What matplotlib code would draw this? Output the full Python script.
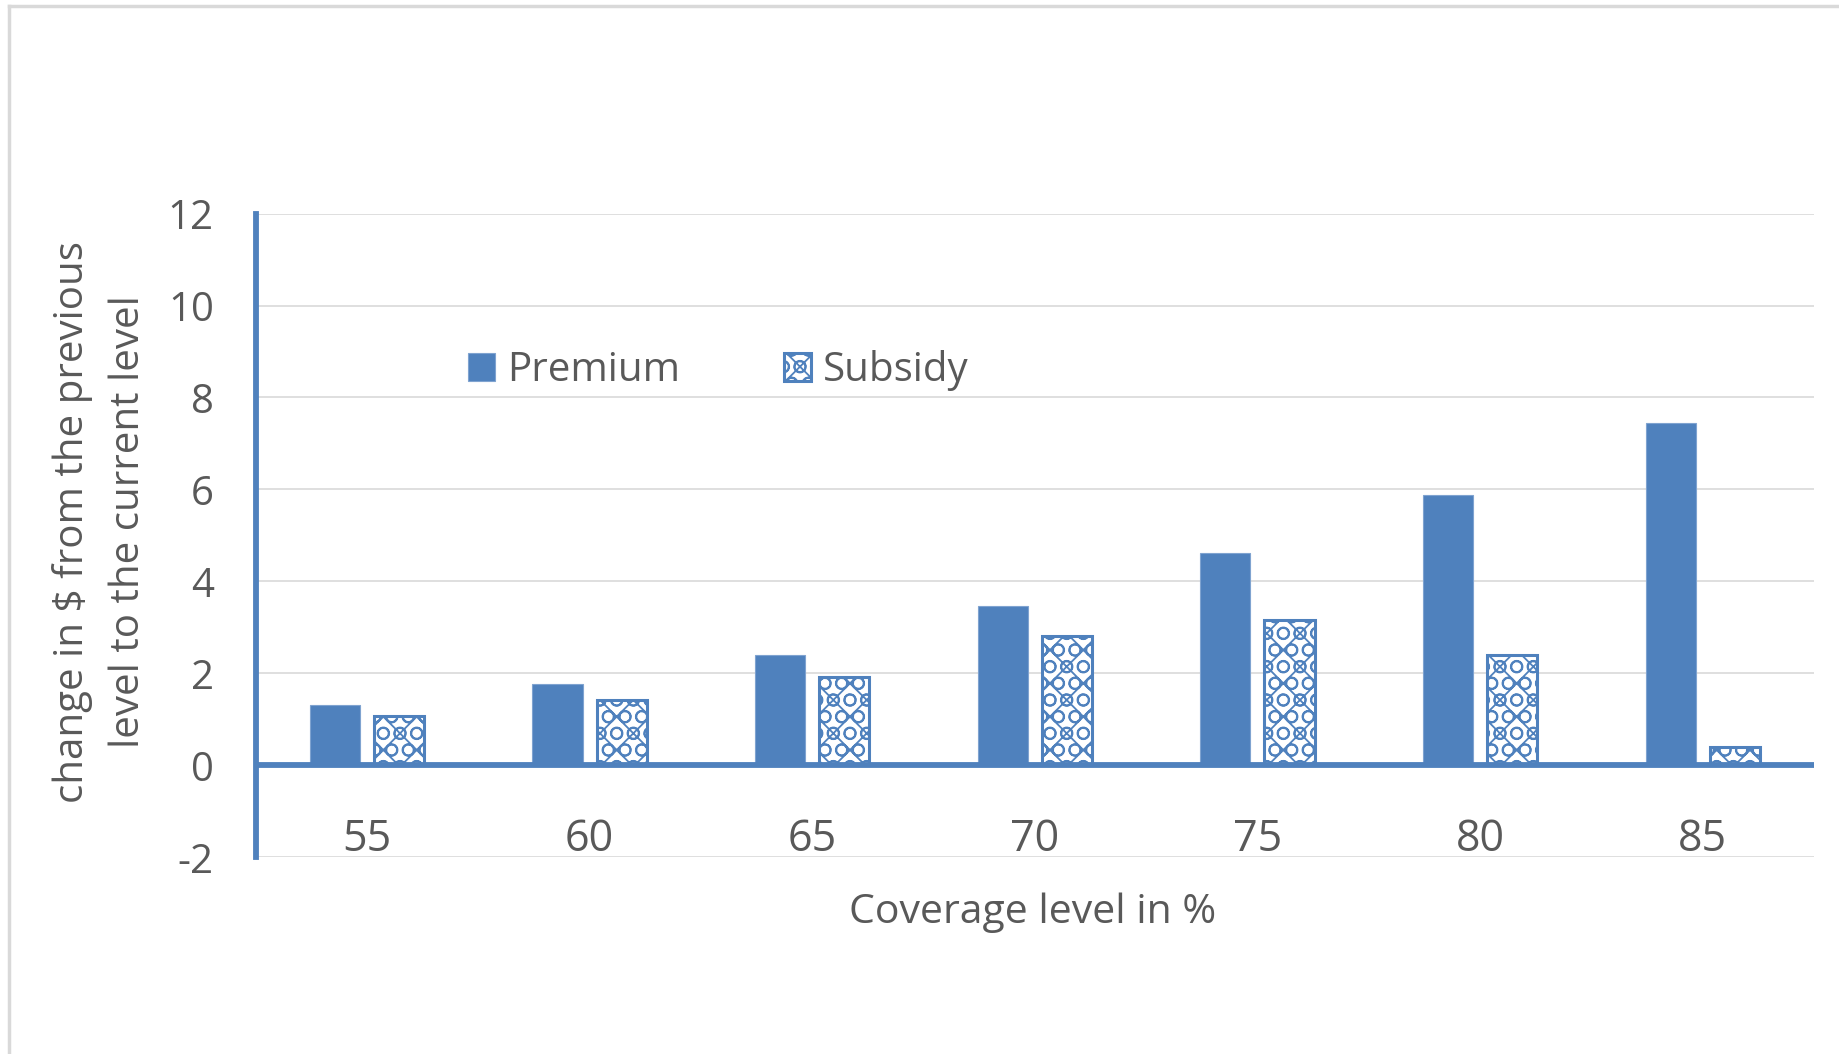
import matplotlib
matplotlib.use("Agg")
import matplotlib.pyplot as plt
import numpy as np
from matplotlib.lines import Line2D

categories = ["55", "60", "65", "70", "75", "80", "85"]
premium = [1.32, 1.77, 2.40, 3.46, 4.62, 5.87, 7.45]
subsidy = [1.07, 1.43, 1.93, 2.81, 3.17, 2.39, 0.40]
yticks = [-2, 0, 2, 4, 6, 8, 10, 12]

BLUE = "#4F81BD"
TXT = "#595959"
GRID = "#D9D9D9"

plt.rcParams['font.family'] = ['Open Sans', 'DejaVu Sans']
plt.rcParams['hatch.linewidth'] = 1.3
plt.rcParams['hatch.color'] = BLUE

fig = plt.figure(figsize=(18.39, 10.54), dpi=100)
ax = fig.add_axes([0.139, 0.1866, 0.9864 - 0.139, 0.7974 - 0.1866])

x = np.arange(len(categories))
w = 0.225
off = 0.144
ax.bar(x - off, premium, w, color=BLUE, edgecolor="#7FA3D0", linewidth=0.8, zorder=3, label="Premium")
ax.bar(x + off, subsidy, w, color="white", edgecolor=BLUE, linewidth=2.2, hatch="xO", zorder=3, label="Subsidy")

ax.set_xlim(-0.5, 6.5)
ax.set_ylim(-2, 12)
ax.set_yticks(yticks)
ax.set_yticklabels([str(v) for v in yticks])
ax.grid(axis='y', color=GRID, linewidth=1.2, zorder=0)
ax.axhline(0, color=BLUE, linewidth=4.2, zorder=4)

for s in ["top", "right", "bottom"]:
    ax.spines[s].set_visible(False)
ax.spines["left"].set_color(BLUE)
ax.spines["left"].set_linewidth(4.2)
ax.spines["left"].set_zorder(5)

ax.tick_params(axis='y', length=0, pad=30, labelsize=29, labelcolor=TXT)
ax.set_xticks([])
for xi, c in zip(x, categories):
    ax.text(xi, -1.86, c, ha='center', va='baseline', fontsize=31, color=TXT)

fig.text(0.5614, 0.134, "Coverage level in %", ha='center', va='center', fontsize=29.5, color=TXT)
fig.text(0.0545, 0.505, "change in $ from the previous\nlevel to the current level",
         ha='center', va='center', rotation=90, fontsize=29, color=TXT, linespacing=1.5)

leg = ax.legend(loc='center left', bbox_to_anchor=(0.113, 0.756), ncol=2, frameon=False,
                fontsize=29, labelcolor=TXT, handlelength=0.66, handleheight=0.66,
                handletextpad=0.3, columnspacing=2.6)

# outer border (left and top)
fig.add_artist(Line2D([0.0049, 0.0049], [0.0, 0.9943], transform=fig.transFigure, color="#D9D9D9", linewidth=2.5))
fig.add_artist(Line2D([0.0049, 1.0], [0.9943, 0.9943], transform=fig.transFigure, color="#D9D9D9", linewidth=2.5))

fig.savefig("out.png", dpi=100, facecolor="white")
